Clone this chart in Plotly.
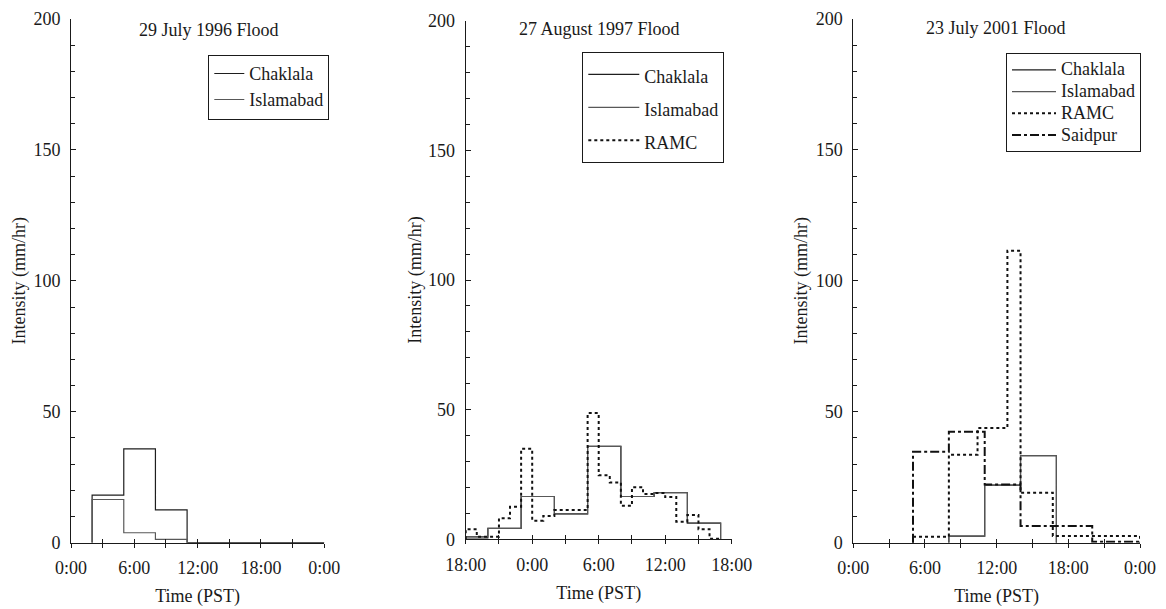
import plotly.graph_objects as go

FONT = "Liberation Serif"
INK = "#1a1a1a"

# ---- 29 July 1996 flood (hours after 0:00) ----
f96_chaklala_hr = [2, 5, 8, 11, 24]
f96_chaklala_mm = [18.2, 35.8, 12.5, 0.0]
f96_islamabad_hr = [2, 5, 8, 11, 24]
f96_islamabad_mm = [16.5, 3.8, 1.3, 0.0]

# ---- 27 August 1997 flood (hours after 0:00 on the 27th; negative = previous evening) ----
f97_chaklala_hr = [-6, -4, -1, 2, 5, 8, 11, 14, 17]
f97_chaklala_mm = [0.5, 4.2, 16.5, 9.8, 35.8, 16.5, 18.0, 6.2]
f97_islamabad_hr = [-6, -4, -1, 2, 5, 8, 11, 14, 17]
f97_islamabad_mm = [1.0, 4.2, 16.5, 9.8, 35.8, 16.5, 18.0, 6.2]
f97_ramc_hr = [-6, -5, -3, -2, -1, 0, 1, 2, 5, 6, 7, 8, 9, 10, 11, 12, 13, 14, 15, 16, 17]
f97_ramc_mm = [3.9, 1.0, 8.1, 12.6, 34.9, 7.2, 9.0, 11.3, 48.7, 24.7, 21.9,
               12.9, 20.1, 17.5, 17.9, 16.3, 6.8, 9.4, 3.9, 0.2]

# ---- 23 July 2001 flood (hours after 0:00) ----
f01_chaklala_hr = [8, 11, 14, 17]
f01_chaklala_mm = [2.5, 22.0, 33.2]
f01_islamabad_hr = [8, 11, 14, 17]
f01_islamabad_mm = [2.5, 22.0, 33.2]
f01_ramc_hr = [5, 8, 10.4, 12.9, 14, 16.7, 24]
f01_ramc_mm = [2.3, 33.6, 43.8, 111.5, 19.1, 2.6]
f01_saidpur_hr = [5, 8, 11, 14, 20, 24]
f01_saidpur_mm = [34.7, 42.4, 22.2, 6.4, 0.4]

panel_titles = ["29 July 1996 Flood", "27 August 1997 Flood", "23 July 2001 Flood"]
clock_day = ["0:00", "", "6:00", "", "12:00", "", "18:00", "", "0:00"]
clock_eve = ["18:00", "", "0:00", "", "6:00", "", "12:00", "", "18:00"]


def steps(edges, vals):
    """Hyetograph outline: rise from zero, hold each interval, fall back to zero."""
    xs, ys = [edges[0]], [0.0]
    for i, v in enumerate(vals):
        xs += [edges[i], edges[i + 1]]
        ys += [v, v]
    xs.append(edges[-1])
    ys.append(0.0)
    return xs, ys


def label(name):
    # legend row pitch follows the legend font size; the label itself stays at 18px
    return f'<span style="font-size:18px">{name}</span>'


STYLE = {
    "Chaklala": dict(color="#1e1e1e", width=1.2),
    "Islamabad": dict(color="#585858", width=1.2),
    "RAMC": dict(color="#111111", width=2, dash="3px,3px"),
    "Saidpur": dict(color="#111111", width=2, dash="9px,3px,3px,3px"),
}

panels = [
    dict(series=[("Chaklala", f96_chaklala_hr, f96_chaklala_mm),
                 ("Islamabad", f96_islamabad_hr, f96_islamabad_mm)],
         rng=[0, 24], ticks=list(range(0, 25, 3)), labels=clock_day),
    dict(series=[("Chaklala", f97_chaklala_hr, f97_chaklala_mm),
                 ("Islamabad", f97_islamabad_hr, f97_islamabad_mm),
                 ("RAMC", f97_ramc_hr, f97_ramc_mm)],
         rng=[-6, 18], ticks=list(range(-6, 19, 3)), labels=clock_eve),
    dict(series=[("Chaklala", f01_chaklala_hr, f01_chaklala_mm),
                 ("Islamabad", f01_islamabad_hr, f01_islamabad_mm),
                 ("RAMC", f01_ramc_hr, f01_ramc_mm),
                 ("Saidpur", f01_saidpur_hr, f01_saidpur_mm)],
         rng=[0, 24], ticks=list(range(0, 25, 3)), labels=clock_day),
]

W, H = 1166, 609
x_dom = [[71 / W, 324.3 / W], [465.7 / W, 731.7 / W], [853.3 / W, 1140 / W]]
y_dom = [[1 - 542.7 / H, 1 - 19 / H], [1 - 539.3 / H, 1 - 20.7 / H], [1 - 542.7 / H, 1 - 19 / H]]
legend_pos = [(208.3, 54.5), (582.3, 52), (1006, 53)]
legend_pitch_font = [17.7, 23.0, 14.4]
legend_itemwidth = [30, 51, 44]
title_pos = [(209, 30), (599, 29), (996, 28)]

fig = go.Figure()
layout = dict(
    width=W, height=H, margin=dict(l=0, r=0, t=0, b=0, autoexpand=False),
    paper_bgcolor="white", plot_bgcolor="white",
    font=dict(family=FONT, size=18, color=INK),
    annotations=[],
)
tfont = dict(family=FONT, size=18, color=INK)

for k, p in enumerate(panels):
    n = k + 1
    xa = "x" if n == 1 else f"x{n}"
    ya = "y" if n == 1 else f"y{n}"
    leg = "legend" if n == 1 else f"legend{n}"
    for name, hr, mm in p["series"]:
        xs, ys = steps(hr, mm)
        fig.add_trace(go.Scatter(
            x=xs, y=ys, mode="lines", name=label(name), line=STYLE[name],
            xaxis=xa, yaxis=ya, legend=leg, showlegend=True,
        ))
    # companion axis carrying the outward half of each time tick
    fig.add_trace(go.Scatter(x=[], y=[], xaxis=f"x{n + 3}", yaxis=ya,
                             showlegend=False, hoverinfo="skip"))

    layout["xaxis" if n == 1 else f"xaxis{n}"] = dict(
        domain=x_dom[k], anchor=ya, range=p["rng"], automargin=False,
        tickmode="array", tickvals=p["ticks"], ticktext=p["labels"],
        ticks="inside", ticklen=4, tickwidth=1, tickcolor=INK,
        tickfont=tfont,
        showline=True, linecolor=INK, linewidth=1,
        showgrid=False, zeroline=False,
        title=dict(text="Time (PST)", standoff=12, font=tfont),
        ticklabelstandoff=9,
    )
    layout[f"xaxis{n + 3}"] = dict(
        overlaying=xa, anchor=ya, range=p["rng"], automargin=False,
        tickmode="array", tickvals=p["ticks"], ticktext=[""] * len(p["ticks"]),
        ticks="outside", ticklen=4, tickwidth=1, tickcolor=INK,
        showline=False, showgrid=False, zeroline=False, showticklabels=False,
    )
    layout["yaxis" if n == 1 else f"yaxis{n}"] = dict(
        domain=y_dom[k], anchor=xa, range=[0, 200], automargin=False,
        tickmode="linear", tick0=0, dtick=50,
        ticks="inside", ticklen=5, tickwidth=1, tickcolor=INK,
        tickfont=tfont,
        minor=dict(dtick=10, ticks="inside", ticklen=4, tickcolor=INK),
        showline=True, linecolor=INK, linewidth=1,
        showgrid=False, zeroline=False,
        title=dict(text="Intensity (mm/hr)", standoff=1 if n == 2 else 3, font=tfont),
        ticklabelstandoff=6,
    )
    lx, ly = legend_pos[k]
    layout[leg] = dict(
        x=lx / W, y=1 - ly / H, xanchor="left", yanchor="top",
        bgcolor="white", bordercolor=INK, borderwidth=1,
        font=dict(family=FONT, size=legend_pitch_font[k], color=INK),
        tracegroupgap=0, itemwidth=legend_itemwidth[k],
    )
    tx, ty = title_pos[k]
    layout["annotations"].append(dict(
        text=panel_titles[k], x=tx / W, y=1 - ty / H, xref="paper", yref="paper",
        xanchor="center", yanchor="middle", showarrow=False, font=tfont,
    ))

fig.update_layout(**layout)
fig.write_html("out.html")
